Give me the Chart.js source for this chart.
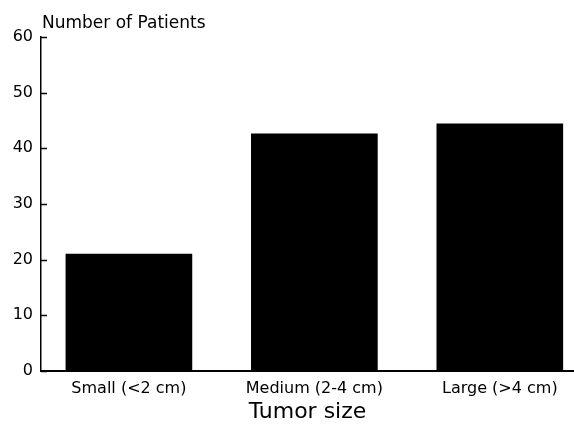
<!DOCTYPE html>
<html>
<head>
<meta charset="utf-8">
<script src="https://cdn.jsdelivr.net/npm/chart.js@4"></script>
<style>
  html, body { margin: 0; padding: 0; background: #fff; }
</style>
</head>
<body>
<canvas id="chart" width="574" height="428"></canvas>
<script>
const categories = ["Small (<2 cm)", "Medium (2-4 cm)", "Large (>4 cm)"];
const patients = [21, 42.6, 44.4];
const yTitle = "Number of Patients";
const xTitle = "Tumor size";

const font = "'DejaVu Sans', sans-serif";

// y-axis title sits horizontally above the axis, and the y tick marks
// point inwards, like the original figure
const axisExtras = {
  id: "axisExtras",
  afterDraw(chart) {
    const { ctx, chartArea, scales } = chart;
    ctx.save();
    ctx.font = "17px " + font;
    ctx.fillStyle = "#000";
    ctx.textAlign = "left";
    ctx.textBaseline = "alphabetic";
    ctx.fillText(yTitle, chartArea.left + 1, 28);

    ctx.strokeStyle = "#000";
    ctx.lineWidth = 1.5;
    scales.y.ticks.forEach(t => {
      const y = Math.round(scales.y.getPixelForValue(t.value)) + 0.5;
      ctx.beginPath();
      ctx.moveTo(chartArea.left, y);
      ctx.lineTo(chartArea.left + 6, y);
      ctx.stroke();
    });
    ctx.restore();
  }
};

new Chart(document.getElementById("chart"), {
  type: "bar",
  data: {
    datasets: [{
      data: patients.map((v, i) => ({ x: i, y: v })),
      backgroundColor: "#000",
      borderWidth: 0,
      barThickness: 126
    }]
  },
  options: {
    responsive: false,
    animation: false,
    devicePixelRatio: 1,
    layout: { padding: { top: 37, right: 0, bottom: 0, left: 0 } },
    plugins: {
      legend: { display: false },
      tooltip: { enabled: false }
    },
    scales: {
      x: {
        type: "linear",
        offset: false,
        min: -0.474,
        max: 2.4,
        afterBuildTicks: scale => {
          scale.ticks = categories.map((_, i) => ({ value: i }));
        },
        afterFit: scale => { scale.height = 57; },
        ticks: {
          callback: v => categories[v],
          color: "#000",
          font: { family: font, size: 16 },
          padding: 8,
          maxRotation: 0,
          autoSkip: false
        },
        grid: { display: false, drawTicks: false, offset: false },
        border: { display: true, color: "#000", width: 2 },
        title: {
          display: true,
          text: xTitle,
          color: "#000",
          font: { family: font, size: 22 },
          padding: { top: 0, bottom: 3 }
        }
      },
      y: {
        min: 0,
        max: 60,
        afterFit: scale => { scale.width = 41; },
        ticks: {
          stepSize: 10,
          color: "#000",
          font: { family: font, size: 16 },
          padding: 8
        },
        grid: {
          drawOnChartArea: false,
          drawTicks: false
        },
        border: { display: true, color: "#000", width: 1.5 }
      }
    }
  },
  plugins: [axisExtras]
});
</script>
</body>
</html>
